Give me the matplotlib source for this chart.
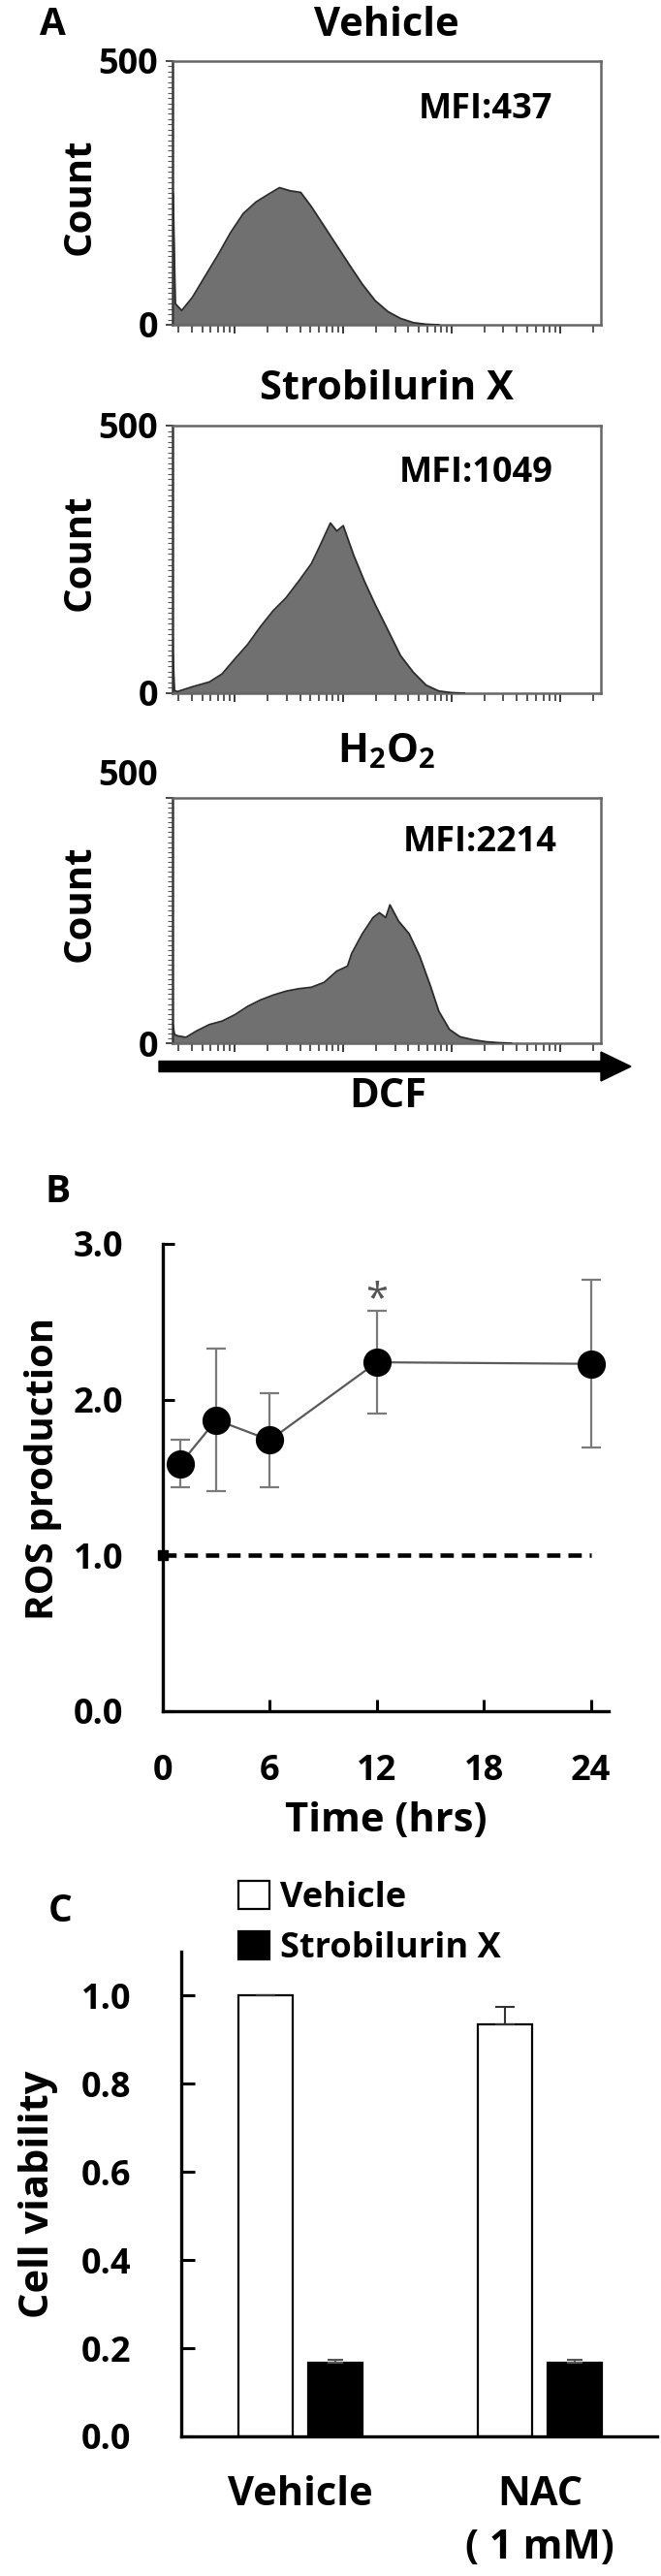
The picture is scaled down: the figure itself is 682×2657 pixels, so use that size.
import numpy as np
import matplotlib
matplotlib.use('Agg')
import matplotlib.pyplot as plt
from matplotlib.ticker import LogLocator, MultipleLocator, NullFormatter
from matplotlib.patches import FancyArrow, Patch

W, H = 682, 2657
DPI = 100

plt.rcParams['font.family'] = ['Open Sans', 'DejaVu Sans']
plt.rcParams['font.weight'] = 'bold'
plt.rcParams['axes.labelweight'] = 'bold'
plt.rcParams['mathtext.fontset'] = 'custom'
plt.rcParams['mathtext.rm'] = 'Open Sans:bold'
plt.rcParams['mathtext.it'] = 'Open Sans:bold'
plt.rcParams['mathtext.bf'] = 'Open Sans:bold'

# ---------------- data ----------------
# Panel A: flow cytometry histograms (x = log10 DCF intensity, y = count)
hist_titles = ['Vehicle', 'Strobilurin X', r'$\mathrm{H_2O_2}$']
hist_mfi = [437, 1049, 2214]

veh_log_dcf = [1.431, 1.451, 1.510, 1.608, 1.725, 1.843, 1.961, 2.078, 2.196, 2.314,
               2.412, 2.510, 2.608, 2.706, 2.824, 2.941, 3.059, 3.176, 3.294, 3.412,
               3.529, 3.647, 3.765, 3.882]
veh_counts = [248, 40, 27, 52, 92, 132, 175, 211, 233, 248,
              260, 254, 251, 224, 187, 150, 113, 77, 46, 25,
              12, 4, 1, 0]

strob_log_dcf = [1.424, 1.443, 1.471, 1.608, 1.765, 1.882, 2.000, 2.118, 2.235, 2.353,
                 2.471, 2.588, 2.706, 2.784, 2.882, 2.941, 3.000, 3.098, 3.196, 3.294,
                 3.412, 3.529, 3.647, 3.765, 3.882, 4.000, 4.118]
strob_counts = [100, 5, 3, 12, 21, 36, 64, 91, 124, 154,
                178, 209, 242, 275, 318, 303, 313, 257, 209, 166,
                118, 70, 39, 15, 4, 1, 0]

h2o2_log_dcf = [1.424, 1.443, 1.471, 1.549, 1.647, 1.765, 1.882, 2.000, 2.118, 2.235,
                2.353, 2.471, 2.588, 2.706, 2.824, 2.941, 3.039, 3.078, 3.176, 3.275,
                3.333, 3.392, 3.431, 3.510, 3.608, 3.706, 3.804, 3.882, 3.980, 4.078,
                4.196, 4.314, 4.431, 4.549]
h2o2_counts = [45, 18, 15, 12, 25, 38, 45, 58, 75, 88,
               98, 106, 111, 114, 124, 147, 157, 183, 223, 256,
               266, 256, 282, 249, 223, 177, 117, 65, 28, 13,
               7, 3, 1, 0]

hist_yticks = [0, 500]

# Panel B: ROS production over time
times = [1, 3, 6, 12, 24]
ros_mean = [1.59, 1.87, 1.74, 2.24, 2.23]
ros_err = [0.15, 0.46, 0.30, 0.33, 0.54]
ctrl_times = [0, 24]
ctrl_level = [1.0, 1.0]
ros_xticks = [0, 6, 12, 18, 24]
ros_yticks = [0.0, 1.0, 2.0, 3.0]
sig_index = 3

# Panel C: cell viability
groups = ['Vehicle', 'NAC\n( 1 mM)']
vehicle_vals = [1.0, 0.934]
vehicle_err = [0.002, 0.04]
strob_vals = [0.167, 0.167]
strob_err = [0.007, 0.007]
via_yticks = [0.0, 0.2, 0.4, 0.6, 0.8, 1.0]

# ---------------- helpers ----------------
fig = plt.figure(figsize=(W / DPI, H / DPI), dpi=DPI)


def add_ax(x0, y0, x1, y1):
    return fig.add_axes([x0 / W, 1 - y1 / H, (x1 - x0) / W, (y1 - y0) / H])


def ftext(x, y, s, **kw):
    kw.setdefault('ha', 'center')
    kw.setdefault('va', 'center')
    return fig.text(x / W, 1 - y / H, s, **kw)


PX = 72.0 / DPI  # points per pixel

# ---------------- Panel A ----------------
ftext(54, 25, 'A', fontsize=28)

hist_boxes = [(178, 63, 620, 335), (178, 439, 620, 715), (178, 823, 620, 1076)]
title_base = [37, 412, 786]
mfi_pos = [(501, 122), (491, 497), (495, 878)]
count_y = [203, 570, 932]
hist_data = [(veh_log_dcf, veh_counts), (strob_log_dcf, strob_counts),
             (h2o2_log_dcf, h2o2_counts)]

for i, (box, (lg, cnt)) in enumerate(zip(hist_boxes, hist_data)):
    ax = add_ax(*box)
    x = 10 ** np.asarray(lg)
    ax.fill_between(x, cnt, 0, color='#707070', lw=0, zorder=2)
    ax.plot(x, cnt, color='#2b2b2b', lw=1.3, zorder=3)
    ax.set_xscale('log')
    ax.set_xlim(10 ** 1.425, 10 ** 5.377)
    ax.set_ylim(0, 500)
    ax.xaxis.set_major_locator(LogLocator(base=10, numticks=10))
    ax.xaxis.set_minor_locator(LogLocator(base=10, subs=np.arange(2, 10), numticks=20))
    ax.xaxis.set_major_formatter(NullFormatter())
    ax.xaxis.set_minor_formatter(NullFormatter())
    ax.yaxis.set_minor_locator(MultipleLocator(10))
    ax.tick_params(axis='x', which='major', direction='out', length=9 * PX, width=1.4,
                   color='#3a3a3a')
    ax.tick_params(axis='x', which='minor', direction='out', length=8 * PX, width=1.2,
                   color='#3a3a3a')
    ax.tick_params(axis='y', which='major', direction='out', length=7 * PX, width=1.3,
                   color='#3a3a3a', pad=8 * PX, labelsize=26)
    ax.tick_params(axis='y', which='minor', direction='out', length=5 * PX, width=0.8,
                   color='#555555')
    for sp in ax.spines.values():
        sp.set_color('#666666')
        sp.set_linewidth(1.8)
    ax.spines['left'].set_color('#3a3a3a')
    if i < 2:
        ax.set_yticks(hist_yticks, [str(v) for v in hist_yticks])
    else:
        # the "500" label of this panel sits above the frame in the original
        ax.set_yticks(hist_yticks, [str(hist_yticks[0]), ''])
        ax.annotate(str(hist_yticks[1]), xy=(0, hist_yticks[1]),
                    xycoords=('axes fraction', 'data'),
                    xytext=(-15 * PX, 22 * PX), textcoords='offset points',
                    ha='right', va='center', fontsize=26, annotation_clip=False)
    ftext(399, title_base[i], hist_titles[i], fontsize=30, va='baseline')
    ftext(mfi_pos[i][0], mfi_pos[i][1], 'MFI:%d' % hist_mfi[i], fontsize=26, va='baseline')
    ftext(82, count_y[i], 'Count', fontsize=29, rotation=90)

# DCF arrow
arrow_y = (H - 1100) / DPI
fig.add_artist(FancyArrow(164 / DPI, arrow_y, (651 - 164) / DPI, 0, width=0.11,
                          head_width=0.30, head_length=0.31, length_includes_head=True,
                          color='black', transform=fig.dpi_scale_trans))
ftext(400, 1132, 'DCF', fontsize=30)

# ---------------- Panel B ----------------
ftext(60, 1229, 'B', fontsize=28)
axB = add_ax(168, 1283, 628, 1765)
axB.plot(ctrl_times, ctrl_level, color='black', lw=3.3, dashes=(3, 1.8), zorder=1)
axB.plot(ctrl_times[:1], ctrl_level[:1], 's', color='black', ms=7, clip_on=False, zorder=1)
axB.errorbar(times, ros_mean, yerr=ros_err, fmt='none', ecolor='#7a7a7a', elinewidth=1.6,
             capsize=7, capthick=1.6, zorder=2)
axB.plot(times, ros_mean, color='#5a5a5a', lw=1.6, zorder=3)
axB.plot(times, ros_mean, 'o', color='black', ms=20, zorder=4, clip_on=False)
axB.text(times[sig_index], ros_mean[sig_index] + ros_err[sig_index] + 0.07, '*',
         ha='center', va='center', fontsize=30, fontweight='normal', color='#555555')
axB.set_xlim(0, 25)
axB.set_ylim(0, 3)
axB.set_xticks(ros_xticks, [str(t) for t in ros_xticks])
axB.set_yticks(ros_yticks, ['%.1f' % v for v in ros_yticks])
axB.tick_params(axis='both', direction='in', length=12 * PX, width=2.2, labelsize=26)
axB.tick_params(axis='y', pad=41 * PX)
axB.tick_params(axis='x', pad=44 * PX)
for sp in ['top', 'right']:
    axB.spines[sp].set_visible(False)
for sp in ['left', 'bottom']:
    axB.spines[sp].set_linewidth(2.4)
    axB.spines[sp].set_color('black')
axB.set_xlabel('Time (hrs)', fontsize=30)
axB.xaxis.set_label_coords(0.5, -(1858 - 1765) / (1765 - 1283))
axB.set_ylabel('ROS production', fontsize=29)
axB.yaxis.set_label_coords(-(168 - 64) / (628 - 168), (1765 - 1515) / (1765 - 1283))

# ---------------- Panel C ----------------
ftext(62, 1971, 'C', fontsize=28)
axC = add_ax(187, 2013, 678, 2513)
xs = np.arange(len(groups))
bw = 0.227
off = 0.144
axC.bar(xs - off, vehicle_vals, width=bw, color='white', edgecolor='black', lw=1.6,
        yerr=[np.zeros(len(vehicle_err)), vehicle_err],
        error_kw=dict(ecolor='#333333', elinewidth=1.5, capsize=7, capthick=1.5))
axC.bar(xs + off, strob_vals, width=bw, color='black', edgecolor='black', lw=1.6,
        yerr=[np.zeros(len(strob_err)), strob_err],
        error_kw=dict(ecolor='#555555', elinewidth=1.5, capsize=6, capthick=1.5))
axC.set_xlim(-0.498, 1.49)
axC.set_ylim(0, 1.1)
axC.set_yticks(via_yticks, ['%.1f' % v for v in via_yticks])
axC.set_xticks(xs, groups)
axC.tick_params(axis='y', direction='in', length=14 * PX, width=2.2, labelsize=26,
                pad=52 * PX)
axC.tick_params(axis='x', length=0, labelsize=30, pad=40 * PX)
for lab in axC.get_xticklabels():
    lab.set_linespacing(1.45)
for sp in ['top', 'right']:
    axC.spines[sp].set_visible(False)
for sp in ['left', 'bottom']:
    axC.spines[sp].set_linewidth(2.4)
    axC.spines[sp].set_color('black')
axC.set_ylabel('Cell viability', fontsize=30)
axC.yaxis.set_label_coords(-(187 - 60) / (678 - 187), 0.5)

handles = [Patch(facecolor='white', edgecolor='black', lw=1.6, label='Vehicle'),
           Patch(facecolor='black', edgecolor='black', lw=1.6, label='Strobilurin X')]
axC.legend(handles=handles, loc='upper left', bbox_to_anchor=(246 / W, 1 - 1940 / H),
           bbox_transform=fig.transFigure, frameon=False, fontsize=26,
           handlelength=0.89, handleheight=0.85, handletextpad=0.3, labelspacing=0.45,
           borderpad=0, borderaxespad=0)

fig.savefig('out.png', dpi=DPI)
